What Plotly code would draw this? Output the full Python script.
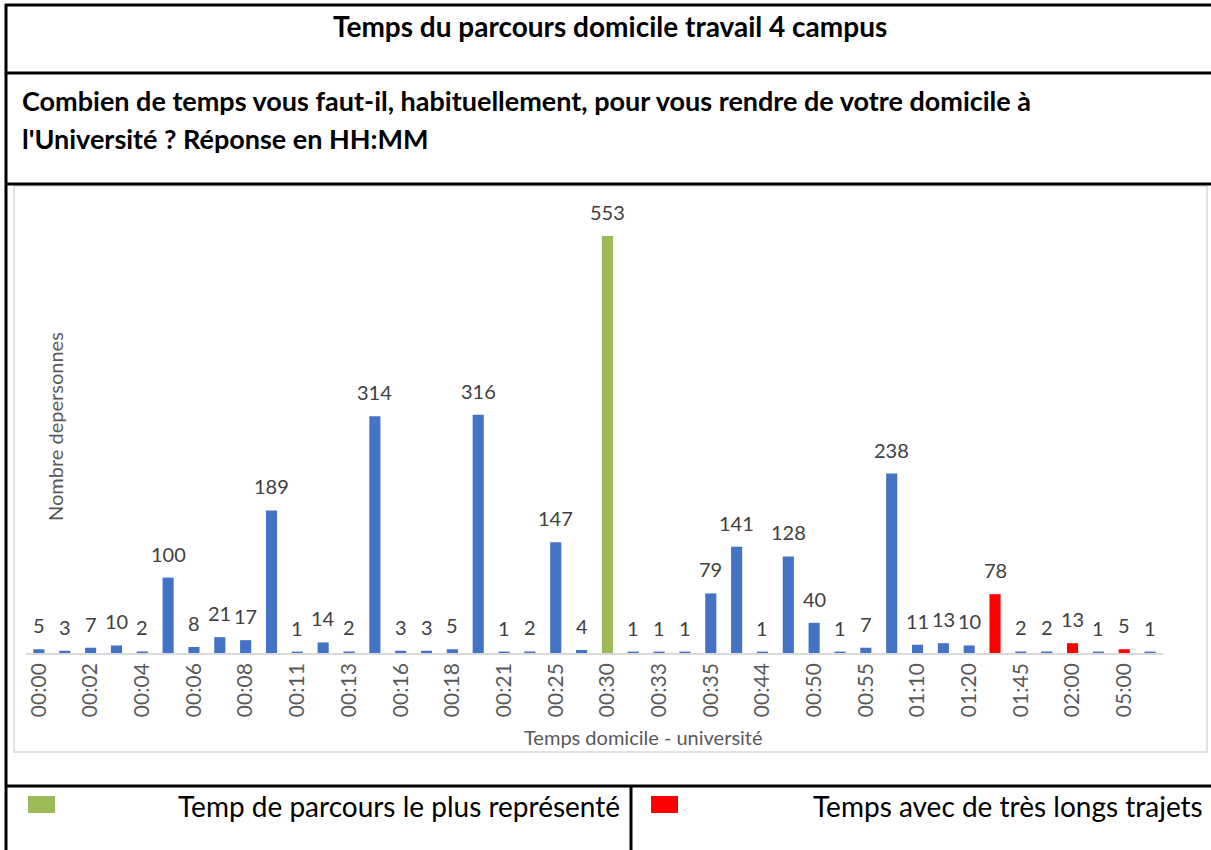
import plotly.graph_objects as go

# Commute time categories (HH:MM) and number of respondents
durations = [
    "00:00", "00:01", "00:02", "00:03", "00:04", "00:05", "00:06", "00:07",
    "00:08", "00:10", "00:11", "00:12", "00:13", "00:15", "00:16", "00:17",
    "00:18", "00:20", "00:21", "00:22", "00:25", "00:28", "00:30", "00:32",
    "00:33", "00:34", "00:35", "00:40", "00:44", "00:45", "00:50", "00:52",
    "00:55", "01:00", "01:10", "01:15", "01:20", "01:30", "01:45", "01:50",
    "02:00", "03:00", "05:00", "06:00",
]
respondents = [
    5, 3, 7, 10, 2, 100, 8, 21,
    17, 189, 1, 14, 2, 314, 3, 3,
    5, 316, 1, 2, 147, 4, 553, 1,
    1, 1, 79, 141, 1, 128, 40, 1,
    7, 238, 11, 13, 10, 78, 2, 2,
    13, 1, 5, 1,
]
most_common = ["00:30"]
very_long = ["01:30", "02:00", "05:00"]

title_text = "Temps du parcours domicile travail 4 campus"
question_lines = [
    "Combien de temps vous faut-il, habituellement, pour vous rendre de votre domicile à",
    "l'Université ? Réponse en HH:MM",
]
legend_labels = ["Temp de parcours le plus représenté", "Temps avec de très longs trajets"]

BLUE, GREEN, RED = "#4472C4", "#9BBB59", "#FF0000"
W, H = 1211, 850
FONT = "Lato"


def bar_colour(d):
    if d in most_common:
        return GREEN
    if d in very_long:
        return RED
    return BLUE


def px(x):
    return x / W


def py(y):
    return 1 - y / H


fig = go.Figure(
    go.Bar(
        x=durations,
        y=respondents,
        marker=dict(color=[bar_colour(d) for d in durations], line=dict(width=0)),
        cliponaxis=False,
        showlegend=False,
    )
)

fig.update_layout(
    width=W,
    height=H,
    margin=dict(l=0, r=0, t=0, b=0),
    paper_bgcolor="white",
    plot_bgcolor="white",
    bargap=0.57,
    font=dict(family=FONT),
    xaxis=dict(
        domain=[px(26), px(1163)],
        type="category",
        tickmode="array",
        tickvals=durations[::2],
        ticktext=durations[::2],
        tickangle=-90,
        tickfont=dict(family=FONT, size=21, color="#595959"),
        showline=True,
        linecolor="#d9d9d9",
        linewidth=1.5,
        showgrid=False,
        ticks="",
        zeroline=False,
    ),
    yaxis=dict(
        domain=[py(653), py(200.6)],
        range=[0, 600],
        visible=False,
    ),
)

shapes = []


def hline(y, x0, x1, color="black", width=3):
    shapes.append(dict(type="line", xref="paper", yref="paper",
                       x0=px(x0), x1=px(x1), y0=py(y), y1=py(y),
                       line=dict(color=color, width=width)))


def vline(x, y0, y1, color="black", width=3):
    shapes.append(dict(type="line", xref="paper", yref="paper",
                       x0=px(x), x1=px(x), y0=py(y0), y1=py(y1),
                       line=dict(color=color, width=width)))


# table grid around the chart
hline(5, 5, W)
vline(6, 4, H)
hline(73, 5, W)
hline(184, 5, W)
hline(786, 5, W)
vline(631, 786, H)

# chart area frame
shapes.append(dict(type="rect", xref="paper", yref="paper",
                   x0=px(14), x1=px(1207), y0=py(752), y1=py(186),
                   line=dict(color="#d9d9d9", width=1.5), fillcolor="rgba(0,0,0,0)",
                   layer="below"))

# legend swatches
for (x0, x1), col in [((28, 55), GREEN), ((651, 678), RED)]:
    shapes.append(dict(type="rect", xref="paper", yref="paper",
                       x0=px(x0), x1=px(x1), y0=py(813), y1=py(796),
                       line=dict(width=0), fillcolor=col))

annotations = [
    dict(text=f"<b>{title_text}</b>", x=px(610), y=py(26), xanchor="center", yanchor="middle",
         font=dict(family=FONT, size=28, color="black")),
    dict(text=f"<b>{question_lines[0]}</b>", x=px(20), y=py(100), xanchor="left", yanchor="middle",
         font=dict(family=FONT, size=27, color="black")),
    dict(text=f"<b>{question_lines[1]}</b>", x=px(20), y=py(138), xanchor="left", yanchor="middle",
         font=dict(family=FONT, size=27, color="black")),
    dict(text="Nombre depersonnes", x=px(55), y=py(427), xanchor="center", yanchor="middle",
         textangle=-90, font=dict(family=FONT, size=20, color="#595959")),
    dict(text="Temps domicile - université", x=px(643), y=py(737), xanchor="center", yanchor="middle",
         font=dict(family=FONT, size=20, color="#595959")),
    dict(text=legend_labels[0], x=px(622), y=py(806), xanchor="right", yanchor="middle",
         font=dict(family=FONT, size=28, color="black")),
    dict(text=legend_labels[1], x=px(1205), y=py(806), xanchor="right", yanchor="middle",
         font=dict(family=FONT, size=28, color="black")),
]
for a in annotations:
    a.update(xref="paper", yref="paper", showarrow=False)

# value labels above each bar
for d, v in zip(durations, respondents):
    annotations.append(dict(
        x=d, y=v, xref="x", yref="y", text=str(v), showarrow=False,
        xanchor="center", yanchor="middle", yshift=24,
        font=dict(family=FONT, size=20, color="#404040"),
    ))

fig.update_layout(shapes=shapes, annotations=annotations)

fig.write_html("out.html")
